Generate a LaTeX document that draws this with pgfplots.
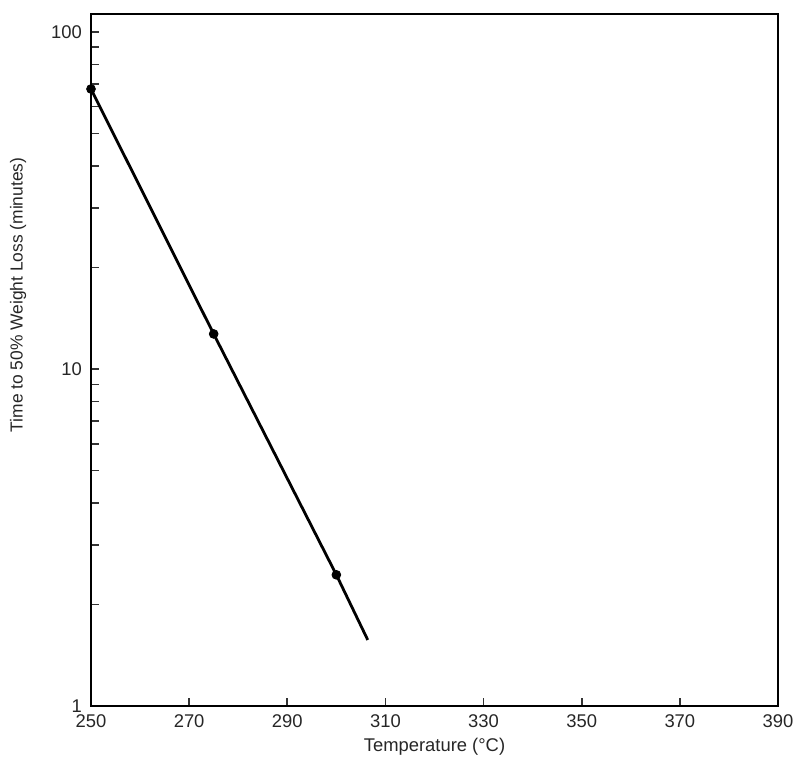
\documentclass[border=0pt]{standalone}
\usepackage{pgfplots}
\pgfplotsset{compat=1.18}
\usepackage{fontspec}
\setmainfont{Liberation Sans}
\usetikzlibrary{calc}

\begin{document}
\begin{tikzpicture}
\begin{axis}[
    name=main,
    scale only axis,
    width=343.5pt, height=346pt,
    xmin=250, xmax=390,
    ymode=log,
    ymin=1, ymax=113,
    xtick={250,270,...,390},
    ytick={1,10,100},
    log ticks with fixed point,
    tick align=inside,
    xtick pos=left, ytick pos=left,
    major tick length=4pt, minor tick length=4pt,
    axis line style={line width=1.3pt},
    every tick/.style={line width=0.8pt, black!80},
    tick label style={font=\fontsize{9.2}{11}\selectfont, text=black!85},
    label style={font=\fontsize{9.2}{11}\selectfont, text=black!85},
    /pgf/number format/assume math mode=true,
    xticklabel style={yshift=-1pt},
    yticklabel style={xshift=-1pt},
    xlabel={Temperature (°C)},
    ylabel={Time to 50\% Weight Loss (minutes)},
    xlabel style={at={(axis description cs:0.5,-0.059)}, anchor=center},
    ylabel style={at={(axis description cs:-0.106,0.594)}, anchor=center,
        font=\fontsize{8.7}{10}\selectfont},
]
% fitted line
\addplot[black, line width=1.4pt] coordinates {
    (250,67.7) (275,12.7) (300,2.45) (306.4,1.57)
};
% measured points
\addplot[only marks, mark=*, mark size=2.2pt, black] coordinates {
    (250,67.7) (275,12.7) (300,2.45)
};
\end{axis}
\path ($(main.south west)+(-45.5pt,-31pt)$) rectangle ($(main.north east)+(11pt,7pt)$);
\end{tikzpicture}
\end{document}
